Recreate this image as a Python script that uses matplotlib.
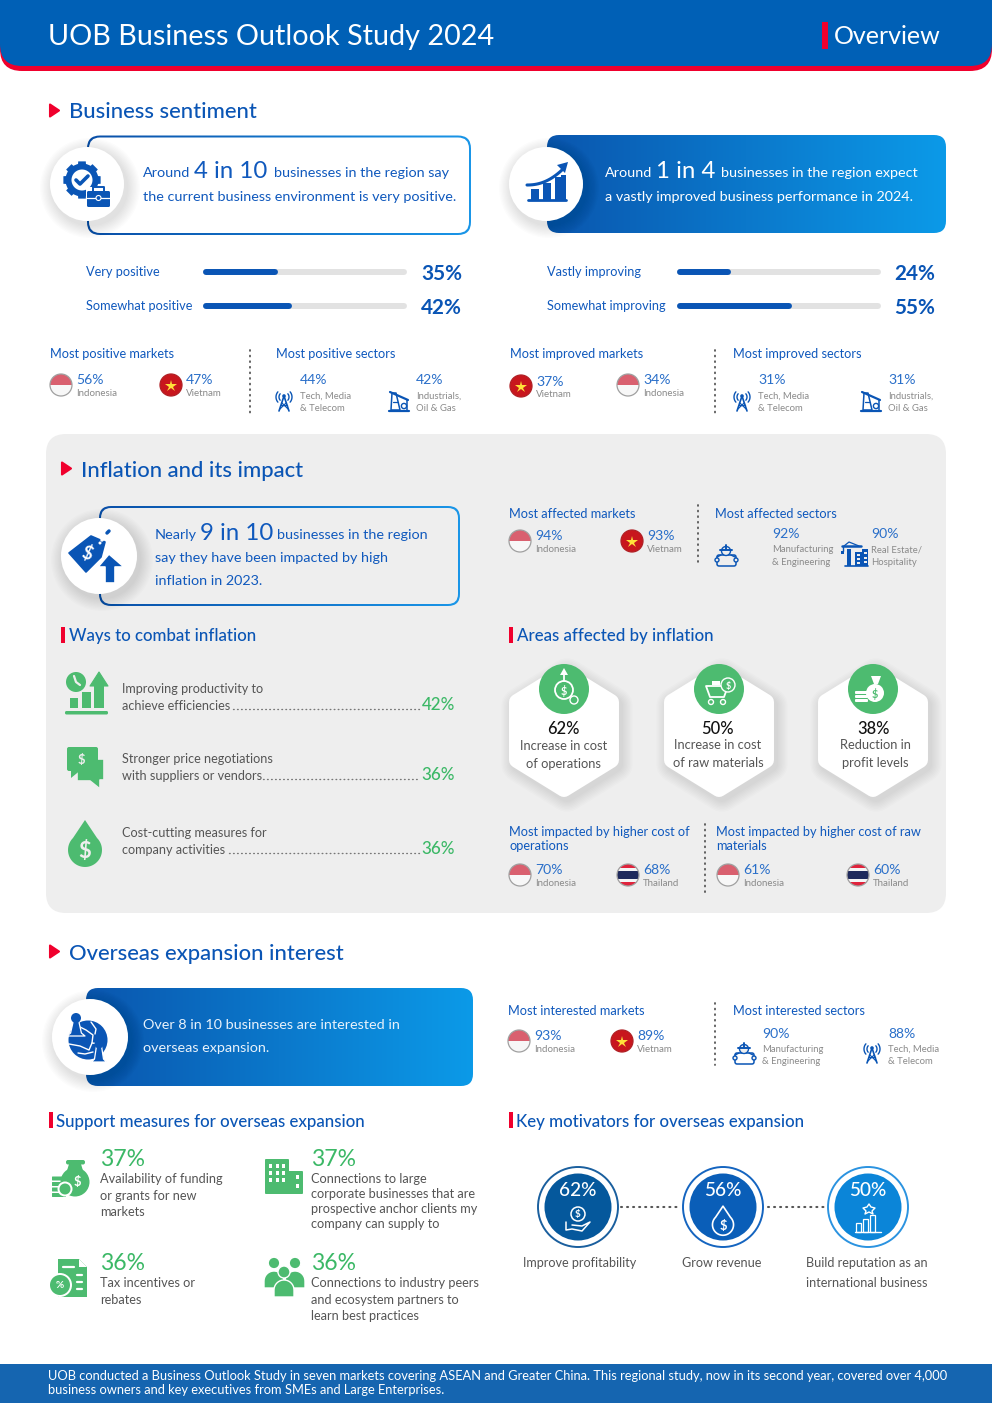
import itertools
import numpy as np
import matplotlib
matplotlib.use("Agg")
import matplotlib.pyplot as plt
from matplotlib.patches import Circle, FancyBboxPatch, Polygon, Rectangle

W, H = 992, 1403
FONT = 'Lato'
BLUE = '#0a55b5'
TXTBLUE = '#1059bd'
GREEN = '#4dbb70'
PCTGREEN = '#3bb866'
GREY = '#8a8a8a'
DARK = '#555555'
RED = '#f0002d'
BODY = 14.4
HEAD = 12.8
BIG = 24

# ---- data ----
sentiment_labels = ['Very positive', 'Somewhat positive']
sentiment_values = [35, 42]
improve_labels = ['Vastly improving', 'Somewhat improving']
improve_values = [24, 55]

positive_markets = [('Indonesia', 56), ('Vietnam', 47)]
positive_sectors = [(['Tech, Media', '& Telecom'], 44), (['Industrials,', 'Oil & Gas'], 42)]
improved_markets = [('Vietnam', 37), ('Indonesia', 34)]
improved_sectors = [(['Tech, Media', '& Telecom'], 31), (['Industrials,', 'Oil & Gas'], 31)]
affected_markets = [('Indonesia', 94), ('Vietnam', 93)]
affected_sectors = [(['Manufacturing', '& Engineering'], 92), (['Real Estate/', 'Hospitality'], 90)]
cost_ops_markets = [('Indonesia', 70), ('Thailand', 68)]
cost_raw_markets = [('Indonesia', 61), ('Thailand', 60)]
interested_markets = [('Indonesia', 93), ('Vietnam', 89)]
interested_sectors = [(['Manufacturing', '& Engineering'], 90), (['Tech, Media', '& Telecom'], 88)]

combat_labels = [['Improving productivity to', 'achieve efficiencies'],
                 ['Stronger price negotiations', 'with suppliers or vendors'],
                 ['Cost-cutting measures for', 'company activities']]
combat_values = [42, 36, 36]

area_labels = [['Increase in cost', 'of operations'],
               ['Increase in cost', 'of raw materials'],
               ['Reduction in', 'profit levels']]
area_values = [62, 50, 38]

support_labels = [['Availability of funding', 'or grants for new', 'markets'],
                  ['Connections to large', 'corporate businesses that are', 'prospective anchor clients my', 'company can supply to'],
                  ['Tax incentives or', 'rebates'],
                  ['Connections to industry peers', 'and ecosystem partners to', 'learn best practices']]
support_values = [37, 37, 36, 36]

motivator_labels = [['Improve profitability'], ['Grow revenue'], ['Build reputation as an', 'international business']]
motivator_values = [62, 56, 50]

footer_lines = ['UOB conducted a Business Outlook Study in seven markets covering ASEAN and Greater China. This regional study, now in its second year, covered over 4,000',
                'business owners and key executives from SMEs and Large Enterprises.']

# ---- canvas in pixels ----
fig = plt.figure(figsize=(W / 100, H / 100), dpi=100, facecolor='white')
ax = fig.add_axes([0, 0, 1, 1])
ax.set_xlim(0, W)
ax.set_ylim(H, 0)
ax.axis('off')
ax.set_autoscale_on(False)
zc = itertools.count(1)


def txt(x, y, s, px, c=TXTBLUE, ha='left', weight='normal', va='center_baseline'):
    ax.text(x, y, s, fontsize=px * 0.72, color=c, ha=ha, va=va, family=FONT, weight=weight, zorder=5000)


def circ(x, y, r, fc='white', ec='none', lw=0, alpha=None):
    p = Circle((x, y), r, fc=fc, ec=ec, lw=lw, alpha=alpha, zorder=next(zc))
    ax.add_patch(p)
    return p


def rect(x, y, w, h, fc, alpha=None):
    p = Rectangle((x, y), w, h, fc=fc, ec='none', alpha=alpha, zorder=next(zc))
    ax.add_patch(p)
    return p


def rbox(x, y, w, h, r, fc, alpha=None, ec='none', lw=0):
    p = FancyBboxPatch((x, y), w, h, boxstyle=f'round,pad=0,rounding_size={r}', fc=fc, ec=ec, lw=lw, alpha=alpha, zorder=next(zc))
    ax.add_patch(p)
    return p


def poly(pts, fc='none', ec='none', lw=0, alpha=None):
    p = Polygon(pts, closed=True, fc=fc, ec=ec, lw=lw, alpha=alpha, joinstyle='round', zorder=next(zc))
    ax.add_patch(p)
    return p


def line(xs, ys, c, lw=1.0, ls='-', cap='round'):
    ax.plot(xs, ys, color=c, lw=lw, ls=ls, solid_capstyle=cap, dash_capstyle='round', zorder=next(zc))


def dotted_v(x, y0, y1):
    line([x, x], [y0, y1], '#555555', 1.3, (0, (0.5, 2.6)))


def dotted_h(x0, x1, y, c='#777777', lw=1.0):
    line([x0, x1], [y, y], c, lw, (0, (0.5, 2.4)))


def grad_box(x, y, w, h, r, c0, c1):
    cols = np.linspace(matplotlib.colors.to_rgb(c0), matplotlib.colors.to_rgb(c1), 256)[None, :, :]
    im = ax.imshow(cols, extent=[x, x + w, y + h, y], aspect='auto', zorder=next(zc))
    clip = FancyBboxPatch((x, y), w, h, boxstyle=f'round,pad=0,rounding_size={r}', transform=ax.transData)
    im.set_clip_path(clip)


def shadow_circle(x, y, r):
    for k in range(10, 0, -1):
        circ(x + 3, y + 4, r + k * 1.3, fc='#000000', alpha=0.012)
    circ(x, y, r)


def triangle(x, y):
    poly([(x, y), (x + 9, y + 6), (x, y + 12)], fc=RED, ec=RED, lw=1.5)


def sub_head(x, y, s):
    rect(x, y - 8, 3.5, 16, RED)
    txt(x + 7 if s.startswith(('Support', 'Key')) else x + 8, y, s, 16.9, c=BLUE, weight='medium')


def flag(x, y, kind, r=11):
    clip = Circle((x, y), r, transform=ax.transData)
    if kind == 'Indonesia':
        bands = [(-r, r, '#d9606f'), (0, r, '#f7f7f7')]
    elif kind == 'Vietnam':
        bands = [(-r, 2 * r, '#c8161d')]
    else:
        bands = [(-r, 2 * r, '#e0233c'), (-r * 0.62, r * 1.24, '#f5f5f5'), (-r * 0.32, r * 0.64, '#1f2a5c')]
    for y0, h, c in bands:
        p = rect(x - r, y + y0, 2 * r, h, c)
        p.set_clip_path(clip)
    if kind == 'Vietnam':
        ax.plot([x], [y + 0.5], marker='*', ms=9, color='#ffe13a', mew=0, zorder=next(zc))
    ax.add_patch(Circle((x, y), r, fc='none', ec='#a0a0a0' if kind != 'Vietnam' else '#b02025', lw=0.9, zorder=next(zc)))


def market(x_flag, y_flag, name, val):
    flag(x_flag, y_flag, name)
    txt(x_flag + 15, y_flag - 5.5, f'{val}%', 14, c='#2a6fc9')
    txt(x_flag + 15, y_flag + 7.5, name, 9.8, c=GREY)


def sector(x_txt, y_pct, lines_, val):
    txt(x_txt, y_pct - 0.5, f'{val}%', 14, c='#2a6fc9')
    for i, s in enumerate(lines_):
        txt(x_txt, y_pct + 15 + i * 12.3, s, 9.5, c=GREY)


# ---- small icons ----
def icon_tower(x, y):
    c = BLUE
    line([x - 5, x, x + 5], [y + 10, y - 5, y + 10], c, 1.2)
    line([x - 3, x + 3], [y + 4, y + 4], c, 1.0)
    line([x - 4, x + 2], [y + 8, y + 2], c, 0.8)
    line([x + 4, x - 2], [y + 8, y + 2], c, 0.8)
    circ(x, y - 5, 1.8, fc=c)
    for s in (-1, 1):
        for rr in (5, 8):
            t = np.linspace(-0.7, 0.7, 12)
            line(x + s * rr * np.cos(t), y - 4 + rr * np.sin(t), c, 1.0)


def icon_rig(x, y):
    c = BLUE
    line([x - 10, x + 10], [y + 10, y + 10], c, 1.6)
    poly([(x - 7, y - 8), (x - 3, y - 8), (x + 1, y + 9), (x - 8, y + 9)], ec=c, lw=1.1)
    line([x - 9, x + 9], [y - 9, y - 1], c, 1.6)
    line([x + 8, x + 8], [y - 1, y + 9], c, 1.1)
    circ(x + 5, y + 5, 2.6, fc='white', ec=c, lw=1)
    line([x - 6, x - 1], [y + 1, y + 1], c, 0.9)


def icon_worker(x, y):
    c = BLUE
    rbox(x - 9, y, 19, 11, 2, 'none', ec=c, lw=1.1)
    circ(x - 9, y + 5, 2, fc='#eeeeee', ec=c, lw=1.0)
    circ(x + 10, y + 5, 2, fc='#eeeeee', ec=c, lw=1.0)
    circ(x, y - 4, 4.5, fc='#eeeeee', ec=c, lw=1.0)
    line([x - 6, x + 6], [y - 5, y - 5], c, 1.4)
    line([x, x], [y - 10, y - 6], c, 1.4)
    line([x - 5, x - 9], [y, y + 2], c, 1.0)
    line([x + 5, x + 9], [y, y + 2], c, 1.0)


def icon_crane(x, y):
    c = BLUE
    rect(x + 1, y - 3, 7, 14, c)
    rect(x + 8, y - 6, 6, 17, c)
    rect(x - 7, y - 6, 4, 17, c)
    line([x - 12, x + 7], [y - 9, y - 9], c, 1.8)
    line([x - 10, x - 5, x + 5], [y - 9, y - 13, y - 9], c, 0.9)
    line([x - 11, x - 11], [y - 9, y - 4], c, 1.0)
    rect(x - 13, y - 4, 3, 3, c)
    line([x - 9, x + 14], [y + 11, y + 11], c, 1.2)
    for i in range(3):
        rect(x + 3, y - 1 + i * 4, 3, 2, '#eeeeee')
        rect(x + 10, y - 3 + i * 4.5, 2.5, 2, '#eeeeee')


def icon_gear_case(x, y):
    c = BLUE
    gx, gy = x - 3, y - 5
    for a in np.arange(0, 360, 45):
        t = np.deg2rad(a)
        poly([(gx + 19 * np.cos(t - 0.2), gy + 19 * np.sin(t - 0.2)), (gx + 19 * np.cos(t + 0.2), gy + 19 * np.sin(t + 0.2)),
              (gx + 14 * np.cos(t + 0.3), gy + 14 * np.sin(t + 0.3)), (gx + 14 * np.cos(t - 0.3), gy + 14 * np.sin(t - 0.3))], fc=c)
    circ(gx, gy, 16.5, fc=c)
    circ(gx, gy, 10.5, fc='white')
    line([gx - 6, gx - 2, gx + 6], [gy, gy + 4, gy - 4], c, 2.6)
    rect(x + 1, y + 2, 24, 19, 'white')
    rbox(x + 2, y + 6, 23, 16, 1.5, c)
    line([x + 8, x + 8, x + 19, x + 19], [y + 6, y + 2, y + 2, y + 6], c, 1.4)
    line([x + 2, x + 25], [y + 13, y + 13], 'white', 0.9)
    circ(x + 13.5, y + 13, 2.5, fc=c, ec='white', lw=0.8)


def icon_chart(x, y):
    c = BLUE
    line([x - 19, x + 19], [y + 16, y + 16], c, 2)
    for dx, top in zip([-16, -4, 8], [5, -1, -7]):
        rect(x + dx, y + top, 7.5, 16 - top, c)
    rect(x + 14, y - 9, 5, 25, c)
    t = np.linspace(0, 1, 20)
    line(x - 20 + 36 * t, y + 1 - 16 * t ** 2.2, c, 2.2)
    poly([(x + 21, y - 22), (x + 18, y - 11), (x + 10, y - 19)], fc=c)


def icon_tag(x, y):
    c = BLUE
    poly([(x - 30, y - 3), (x - 8, y - 20), (x + 6, y - 14), (x + 2, y + 1), (x - 13, y + 16)], fc=c, ec=c, lw=1.2)
    ax.text(x - 12, y - 3, '$', color='white', fontsize=13, rotation=-20, ha='center', va='center', family=FONT, weight='bold', zorder=next(zc))
    circ(x + 1, y - 13, 1.5, fc='white')
    line([x + 3, x + 10], [y - 16, y - 25], 'white', 2.5)
    line([x + 8, x + 10], [y - 23, y - 25], c, 2.5)
    poly([(x + 10, y - 2), (x + 25, y + 11), (x + 16, y + 11), (x + 16, y + 27), (x + 6, y + 27), (x + 6, y + 11), (x - 1, y + 11)], fc=c, ec='white', lw=1.2)


def icon_globe(x, y):
    c = BLUE
    gx, gy = x + 2, y + 4
    circ(gx, gy, 19.5, fc=c)
    for xs, ys in [([gx - 10, gx - 2, gx + 5, gx + 4, gx + 12], [gy - 14, gy - 10, gy - 5, gy + 3, gy + 4]),
                   ([gx - 19, gx - 8, gx + 1, gx + 4], [gy + 4, gy + 6, gy + 10, gy + 3]),
                   ([gx + 3, gx + 8, gx + 7], [gy - 18, gy - 11, gy - 6]),
                   ([gx - 10, gx - 3, gx + 5], [gy + 13, gy + 14, gy + 12])]:
        line(xs, ys, 'white', 1.0)
    for px_, py_, r, w_, h_ in [(-10, -18, 5, 9, 18), (13, 8, 4.5, 7.5, 18)]:
        cx, cy = x + px_, y + py_
        poly([(cx - 2.5, cy + 2), (cx + 2.5, cy + 2), (cx + w_ * 0.6, cy + h_ - 3), (cx + w_, cy + h_), (cx - w_, cy + h_), (cx - w_ * 0.6, cy + h_ - 3)], fc=c, ec='white', lw=0.9)
        circ(cx, cy, r, fc=c)


def icon_prod(x, y):
    rbox(x - 22, y + 18, 43, 3.5, 1.5, GREEN)
    rect(x - 17, y + 5, 8, 10, GREEN)
    rect(x - 5, y - 1, 9, 16, GREEN)
    rect(x + 7, y - 8, 10, 23, GREEN)
    poly([(x + 12, y - 21), (x + 21, y - 7), (x + 3, y - 7)], fc=GREEN, ec=GREEN, lw=0.8)
    circ(x - 11, y - 11, 10, fc=GREEN)
    line([x - 13, x - 11, x - 7], [y - 17, y - 11, y - 8], '#eeeeee', 1.6)


def icon_chat(x, y):
    poly([(x - 8, y - 6), (x + 19, y - 6), (x + 19, y + 15), (x + 15, y + 15), (x + 15, y + 24), (x + 5, y + 16), (x - 8, y + 16)], fc=GREEN, ec='#eeeeee', lw=1.2)
    rbox(x - 18, y - 18, 31, 24, 2, GREEN)
    poly([(x - 14, y + 4), (x - 14, y + 13), (x - 3, y + 4)], fc=GREEN)
    txt(x - 4, y - 6, '$', 13, c='#eeeeee', ha='center', weight='bold')


def icon_drop(x, y, fc=GREEN, ec='none', lw=0, s=1.0, dollar='#eeeeee', dpx=21):
    t = np.linspace(-0.75 * np.pi, 0.75 * np.pi, 40) + np.pi / 2
    r = 17 * s
    pts = [(x, y - 24 * s)] + [(x + r * np.cos(a), y + 6 * s + r * np.sin(a)) for a in t[::1]]
    poly(pts, fc=fc, ec=ec, lw=lw)
    txt(x, y + 6 * s, '$', dpx, c=dollar, ha='center', weight='bold')


def icon_moneybag(x, y):
    c = GREEN
    circ(x + 3, y + 6, 14.5, fc=c)
    poly([(x - 3, y - 12), (x + 9, y - 12), (x + 12, y - 2), (x - 6, y - 2)], fc=c)
    rbox(x - 6, y - 16, 19, 4.5, 2, c)
    for k in range(4):
        rbox(x - 20, y + 17 - k * 5.5, 14, 4, 0.5, c)
    circ(x - 7, y + 13, 7.5, fc='white')
    circ(x - 7, y + 13, 5.5, fc=c)
    txt(x + 5, y + 5, '$', 13, c='white', ha='center', weight='bold')


def icon_doc(x, y):
    poly([(x - 11, y - 19), (x + 10, y - 19), (x + 18, y - 11), (x + 18, y + 19), (x - 11, y + 19)], fc=GREEN)
    poly([(x + 10, y - 19), (x + 10, y - 11), (x + 18, y - 11)], fc='white')
    line([x - 6, x + 5], [y - 11, y - 11], 'white', 1.6)
    for k in range(3):
        line([x + 8, x + 13], [y - 3 + k * 7, y - 3 + k * 7], 'white', 1.6)
    circ(x - 9, y + 7, 12, fc='white')
    circ(x - 9, y + 7, 10, fc=GREEN)
    txt(x - 9, y + 7, '%', 10, c='white', ha='center', weight='bold')


def icon_city(x, y):
    rbox(x - 19, y - 17, 24, 35, 1, GREEN)
    rbox(x + 3, y - 5, 16, 23, 1, GREEN)
    for i in range(3):
        for j in range(3):
            rect(x - 15 + j * 6.5, y - 12 + i * 7, 3.3, 3.5, 'white')
    rect(x + 12, y - 1, 3.3, 3.5, 'white')
    rect(x + 12, y + 8, 3.3, 3.5, 'white')


def icon_people(x, y):
    for dx, dy, r, wd, h_ in [(-10, -12, 5.8, 10, 17), (11, -12, 5.8, 10, 17), (0, -3, 6, 10, 17)]:
        t = np.linspace(np.pi, 2 * np.pi, 20)
        base = y + dy + 8 + h_
        pts = [(x + dx + wd * np.cos(a), base - h_ + 10 + 10 * np.sin(a)) for a in t] + [(x + dx + wd, base), (x + dx - wd, base)]
        poly(pts, fc=GREEN, ec='white', lw=1.0)
        circ(x + dx, y + dy, r, fc=GREEN, ec='white', lw=1.0)


def hexagon(x, y=731, rx=47, ry=58):
    pts = [(x, y - ry), (x + rx, y - ry / 2), (x + rx, y + ry / 2), (x, y + ry), (x - rx, y + ry / 2), (x - rx, y - ry / 2)]
    for k in range(8, 0, -1):
        poly([(a + 3, b + 4) for a, b in pts], fc='#000000', ec='#000000', lw=2.0 * k + 11, alpha=0.011)
    poly(pts, fc='white', ec='white', lw=11.5)


# ---- header ----
rbox(0, -50, W, 121, 22, RED)
rbox(0, -50, W, 116, 22, '#0060b6')
txt(48, 35, 'UOB Business Outlook Study 2024', 28.7, c='white')
rect(822, 22, 5.5, 27, RED)
txt(834, 35, 'Overview', 25, c='white')

# ---- business sentiment ----
triangle(50, 104.5)
txt(69, 110.5, 'Business sentiment', 22, c=BLUE, weight='medium')

grad_box(87, 135.5, 384, 99.5, 13, '#0a4fa8', '#1a96e8')
rbox(89, 137.5, 380, 95.5, 11, 'white')
shadow_circle(87, 184, 37)
icon_gear_case(85, 185)
txt(143, 172, 'Around', BODY)
txt(194, 170, '4 in 10', BIG)
txt(274, 172, 'businesses in the region say', BODY)
txt(143, 196, 'the current business environment is very positive.', BODY)

grad_box(547, 135, 399, 98, 12, '#0a56ae', '#0c9ae8')
shadow_circle(546, 184, 37)
icon_chart(547, 184)
txt(605, 172, 'Around', BODY, c='white')
txt(656, 170, '1 in 4', BIG, c='white')
txt(721, 172, 'businesses in the region expect', BODY, c='white')
txt(605, 196, 'a vastly improved business performance in 2024.', BODY, c='white')


def bars_block(x_lab, x_bar, x_val, labels, values):
    # bars live in their own 0-100 axes; the round caps add the bar's rounded ends
    bax = fig.add_axes([x_bar / W, 1 - 320 / H, 198 / W, 60 / H])
    bax.set_xlim(0, 100)
    bax.set_ylim(320, 260)
    bax.axis('off')
    for y, lab, v in zip([271.5, 305.5], labels, values):
        bax.plot([0, 100], [y, y], color='#e2e2e2', lw=4.3, solid_capstyle='round', clip_on=False)
        bax.plot([0, v], [y, y], color='#0a55b5', lw=4.3, solid_capstyle='round', clip_on=False)
        txt(x_lab, y - 1, lab, 12.8)
        txt(x_val, y, f'{v}%', 20.8, c=BLUE, weight='bold')


bars_block(86, 206, 421, sentiment_labels, sentiment_values)
bars_block(547, 680, 894, improve_labels, improve_values)

txt(50, 353, 'Most positive markets', HEAD)
market(61, 385, *positive_markets[0])
market(171, 385, *positive_markets[1])
dotted_v(250, 350, 413)
txt(276, 353, 'Most positive sectors', HEAD)
sector(300, 380, positive_sectors[0][0], positive_sectors[0][1])
sector(416, 380, positive_sectors[1][0], positive_sectors[1][1])
icon_tower(284, 401)
icon_rig(399, 401)

txt(510, 353, 'Most improved markets', HEAD)
market(521, 386, *improved_markets[0])
market(628, 385, *improved_markets[1])
dotted_v(715, 350, 413)
txt(733, 353, 'Most improved sectors', HEAD)
sector(758, 380, improved_sectors[0][0], improved_sectors[0][1])
sector(888, 380, improved_sectors[1][0], improved_sectors[1][1])
icon_tower(742, 401)
icon_rig(871, 401)

# ---- inflation panel ----
rbox(46, 434, 900, 479, 20, '#eeeeee')
triangle(62, 462.5)
txt(81, 469, 'Inflation and its impact', 22, c=BLUE, weight='medium')

grad_box(99, 506, 361, 100, 12, '#0a4fa8', '#1a96e8')
rbox(101, 508, 357, 96, 10, '#eeeeee')
shadow_circle(99, 556, 38)
icon_tag(99, 556)
txt(155, 534, 'Nearly', BODY)
txt(200, 532, '9 in 10', BIG)
txt(277, 534, 'businesses in the region', BODY)
txt(155, 557, 'say they have been impacted by high', BODY)
txt(155, 580, 'inflation in 2023.', BODY)

txt(509, 513, 'Most affected markets', HEAD)
market(520, 541, *affected_markets[0])
market(632, 541, *affected_markets[1])
dotted_v(698, 505, 562)
txt(715, 513, 'Most affected sectors', HEAD)
sector(772, 534, affected_sectors[0][0], affected_sectors[0][1])
sector(871, 534, affected_sectors[1][0], affected_sectors[1][1])
icon_worker(726, 555)
icon_crane(854, 555)

sub_head(61, 634.5, 'Ways to combat inflation')
for i, (y, lab, v, x_dot) in enumerate(zip([688, 758, 832], combat_labels, combat_values, [233, 263, 229])):
    txt(122, y, lab[0], 12.6, c=DARK)
    txt(122, y + 16.5, lab[1], 12.6, c=DARK)
    dotted_h(x_dot, 419, y + 21)
    txt(455, y + 15.5, f'{v}%', 17, c=PCTGREEN, ha='right', weight='medium')
icon_prod(87, 693)
icon_chat(85, 765)
icon_drop(85, 844, dpx=22)

sub_head(509, 634.5, 'Areas affected by inflation')
for x_hex, x_txt, y_txt, lab, v in zip([564, 719, 873], [564, 718, 875], [745, 744, 744], area_labels, area_values):
    hexagon(x_hex)
    circ(x_hex, 689, 25, fc=GREEN)
    txt(x_txt - 1, 727, f'{v}%', 16.5, c='#111111', ha='center', weight='medium')
    txt(x_txt, y_txt, lab[0], 12.9, c=DARK, ha='center')
    txt(x_txt, y_txt + 18, lab[1], 12.9, c=DARK, ha='center')
# green badge glyphs
circ(564, 690, 9, fc='none', ec='white', lw=1.3)
txt(564, 690, '$', 11, c='white', ha='center', weight='bold')
line([564, 564], [681, 671], 'white', 1.3)
poly([(564, 668), (568, 675), (560, 675)], fc='white')
circ(574, 700, 4, fc='none', ec='white', lw=1)
poly([(706, 686), (728, 686), (724, 697), (710, 697)], ec='white', lw=1.3)
circ(711, 702, 2.5, fc='none', ec='white', lw=1)
circ(723, 702, 2.5, fc='none', ec='white', lw=1)
circ(728, 685, 7, fc=GREEN, ec='white', lw=1)
txt(728, 685, '$', 9, c='white', ha='center', weight='bold')
rect(712, 681, 8, 4, 'white')
circ(875, 693, 9, fc='white')
poly([(871, 676), (881, 676), (878, 684), (874, 684)], fc='white')
txt(875, 693, '$', 11, c=GREEN, ha='center', weight='bold')
for k in range(3):
    rbox(855, 699 - k * 4, 13, 3, 1, 'white')

txt(509, 831, 'Most impacted by higher cost of', HEAD)
txt(509, 845, 'operations', HEAD)
market(520, 875, *cost_ops_markets[0])
market(628, 875, *cost_ops_markets[1])
dotted_v(705, 824, 893)
txt(716, 831, 'Most impacted by higher cost of raw', HEAD)
txt(716, 845, 'materials', HEAD)
market(728, 875, *cost_raw_markets[0])
market(858, 875, *cost_raw_markets[1])

# ---- overseas ----
triangle(50, 945.5)
txt(69, 952, 'Overseas expansion interest', 22, c=BLUE, weight='medium')

grad_box(86, 988, 387, 98, 12, '#0a56ae', '#0c9ae8')
shadow_circle(90, 1037, 38)
icon_globe(86, 1036)
txt(143, 1024, 'Over 8 in 10 businesses are interested in', BODY, c='#e8f2fb')
txt(143, 1047, 'overseas expansion.', BODY, c='#e8f2fb')

txt(508, 1010, 'Most interested markets', HEAD)
market(519, 1041, *interested_markets[0])
market(622, 1041, *interested_markets[1])
dotted_v(715, 1003, 1065)
txt(733, 1010, 'Most interested sectors', HEAD)
sector(762, 1033, interested_sectors[0][0], interested_sectors[0][1])
sector(888, 1033, interested_sectors[1][0], interested_sectors[1][1])
icon_worker(744, 1053)
icon_tower(872, 1053)

sub_head(49, 1120, 'Support measures for overseas expansion')
sub_head(509, 1120, 'Key motivators for overseas expansion')

for x, y, lab, v, gap in zip([100, 311, 100, 311], [1158, 1158, 1262, 1262], support_labels, support_values, [16.5, 15, 16.5, 16.5]):
    txt(x, y, f'{v}%', 23, c=PCTGREEN)
    for i, s in enumerate(lab):
        txt(x, y + 20 + i * gap, s, 12.8, c=DARK)
icon_moneybag(72, 1176)
icon_city(284, 1176)
icon_doc(69, 1278)
icon_people(284, 1275)

for x, v, lab, c, ring, x_lab in zip([578, 723, 868], motivator_values, motivator_labels,
                                     ['#05589c', '#0a5eb8', '#0b85d8'], ['#1a5f9e', '#1565c0', '#2b93e0'], [580, 722, 867]):
    circ(x, 1207, 40, fc='white', ec=ring, lw=1.4)
    circ(x, 1207, 33.5, fc=c)
    txt(x, 1189.5, f'{v}%', 19, c='white', ha='center', weight='medium')
    for i, s in enumerate(lab):
        txt(x_lab, 1262 + i * 20, s, 12.6, c=DARK, ha='center')
dotted_h(621, 678, 1207, '#555555', 1.5)
dotted_h(768, 825, 1207, '#555555', 1.5)
# glyphs inside the three circles
circ(578, 1214, 7, fc='none', ec='white', lw=1.1)
txt(578, 1214, '$', 10, c='white', ha='center', weight='bold')
line([566, 566, 572, 582, 590, 582, 572], [1222, 1230, 1229, 1231, 1222, 1226, 1225], 'white', 1.1)
icon_drop(723, 1221, fc='none', ec='white', lw=1.2, s=0.62, dollar='white', dpx=13)
poly([(869, 1204), (871, 1207), (875, 1208), (872, 1211), (873, 1214), (869, 1212), (865, 1214), (866, 1211), (863, 1208), (867, 1207)], ec='white', lw=1.0)
for dx, hh in [(-10, 9), (-3, 13), (4, 17)]:
    ax.add_patch(Rectangle((868 + dx - 2.5, 1232 - hh), 5.5, hh, fc='none', ec='white', lw=0.9, zorder=next(zc)))
line([855, 881], [1232, 1232], 'white', 1.0)

# ---- footer ----
rect(0, 1364, W, 39, '#1565b0')
txt(48, 1375, footer_lines[0], 12.85, c='white')
txt(48, 1389, footer_lines[1], 12.85, c='white')

fig.savefig('out.png', dpi=100)
